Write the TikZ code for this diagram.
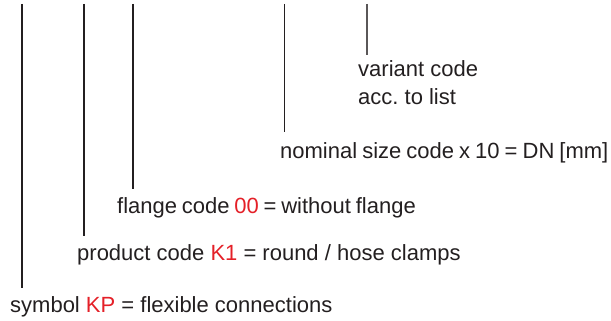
\documentclass[tikz,border=0pt]{standalone}
\usepackage{fontspec}
\setmainfont{Liberation Sans}
\usetikzlibrary{positioning}
\definecolor{codered}{RGB}{228,32,40}
\definecolor{txtgray}{RGB}{35,31,32}
\frenchspacing

\begin{document}
\begin{tikzpicture}[x=1pt, y=-1pt,
    lbl/.style={anchor=base west, inner sep=0pt, text=txtgray, font=\fontsize{22}{28}\selectfont},
    lead/.style={draw=txtgray, line width=1.3pt}]
        \useasboundingbox (0,0) rectangle (611,321);

        % Tops of the leader lines
        \coordinate (t1) at (22,4);
        \coordinate (t2) at (84,4);
        \coordinate (t3) at (133,4);
        \coordinate (t4) at (284.5,4);
        \coordinate (t5) at (367,4);

        % Labels
        \node[lbl] (variant) at (358,77) {variant code};
        \node[lbl] (varlist) at (358,105) {acc. to list};
        \node[lbl] (nominal) at (280,158) {\spaceskip=5.05pt nominal size code x 10 = DN [mm]};
        \node[lbl] (flange) at (117,213) {\spaceskip=4.8pt flange code \textcolor{codered}{00} = without flange};
        \node[lbl] (product) at (77,260) {product code \textcolor{codered}{K1} = round / hose clamps};
        \node[lbl] (symbol) at (10,312) {symbol \textcolor{codered}{KP} = flexible connections};

        % Leader lines
        \draw[lead] (t1) -- ([yshift=24pt]t1 |- symbol.base);
        \draw[lead] (t2) -- ([yshift=24pt]t2 |- product.base);
        \draw[lead] (t3) -- ([yshift=24pt]t3 |- flange.base);
        \draw[lead] (t4) -- ([yshift=26pt]t4 |- nominal.base);
        \draw[lead, draw=txtgray!75] (t5) -- ([yshift=22pt]t5 |- variant.base);
      \end{tikzpicture}
\end{document}
